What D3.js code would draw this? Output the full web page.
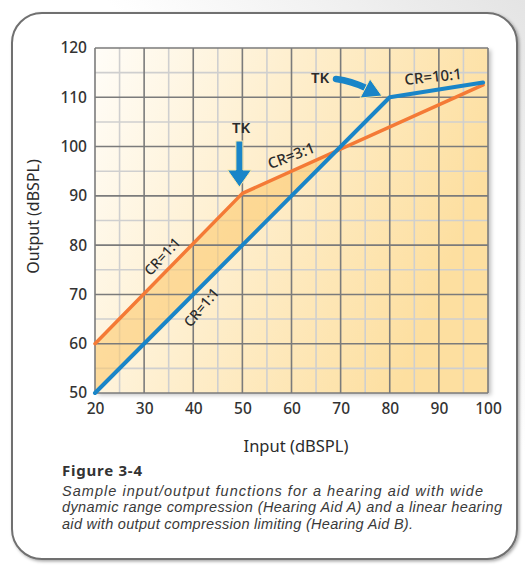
<!DOCTYPE html>
<html><head><meta charset="utf-8">
<script src="https://cdn.jsdelivr.net/npm/d3@7"></script>
<style>
html,body{margin:0;padding:0;background:#fff;}
svg{display:block;}
</style></head>
<body>
<script>
// ---- data ----
const inputTicks = [20, 30, 40, 50, 60, 70, 80, 90, 100];
const outputTicks = [50, 60, 70, 80, 90, 100, 110, 120];
const minorInput = [25, 35, 45, 55, 65, 75, 85, 95];
const minorOutput = [55, 65, 75, 85, 95, 105, 115];
// Hearing Aid A (wide dynamic range compression) - orange
const aidAInput = [20, 50, 99];
const aidAOutput = [60, 90.5, 112.5];
// Hearing Aid B (linear with output compression limiting) - blue
const aidBInput = [20, 80, 99];
const aidBOutput = [50, 110, 113];
const captionTitle = "Figure 3-4";
const captionLines = [
  "Sample input/output functions for a hearing aid with wide",
  "dynamic range compression (Hearing Aid A) and a linear hearing",
  "aid with output compression limiting (Hearing Aid B)."
];
const captionWidths = [421, 440, 351];

const W = 525, H = 565;
const margin = {left: 95, right: 37, top: 48, bottom: 172};
const pw = W - margin.left - margin.right, ph = H - margin.top - margin.bottom;

const svg = d3.select("body").append("svg").attr("width", W).attr("height", H);
const defs = svg.append("defs");

const pg = defs.append("linearGradient").attr("id","pageg").attr("x1","0").attr("y1","1").attr("x2","1").attr("y2","0");
pg.append("stop").attr("offset","0.6").attr("stop-color","#ffffff");
pg.append("stop").attr("offset","1").attr("stop-color","#e4e4e4");
svg.append("rect").attr("width",W).attr("height",H).attr("fill","url(#pageg)");

const fs = defs.append("filter").attr("id","fshadow").attr("x","-5%").attr("y","-5%").attr("width","110%").attr("height","110%");
fs.append("feDropShadow").attr("dx",1.5).attr("dy",1.5).attr("stdDeviation",1.5).attr("flood-color","#000").attr("flood-opacity",0.35);
svg.append("rect").attr("x",12).attr("y",13).attr("width",505).attr("height",546)
  .attr("rx",30).attr("ry",30).attr("fill","#fff").attr("stroke","#6f6f6f").attr("stroke-width",2)
  .attr("filter","url(#fshadow)");

const bg = defs.append("linearGradient").attr("id","plotg").attr("x1","0").attr("y1","0").attr("x2","1").attr("y2","0.35");
bg.append("stop").attr("offset","0").attr("stop-color","#fffdf8");
bg.append("stop").attr("offset","0.45").attr("stop-color","#feefcf");
bg.append("stop").attr("offset","1").attr("stop-color","#fddfa0");

const ps = defs.append("filter").attr("id","pshadow").attr("x","-5%").attr("y","-5%").attr("width","112%").attr("height","112%");
ps.append("feDropShadow").attr("dx",3).attr("dy",2).attr("stdDeviation",2).attr("flood-color","#000").attr("flood-opacity",0.25);

const x = d3.scaleLinear().domain([20,100]).range([margin.left, margin.left+pw]);
const y = d3.scaleLinear().domain([50,120]).range([margin.top+ph, margin.top]);

svg.append("rect").attr("x",x(20)).attr("y",y(120)).attr("width",x(100)-x(20)).attr("height",y(50)-y(120))
  .attr("fill","url(#plotg)").attr("filter","url(#pshadow)");

const g = svg.append("g");
g.selectAll(".mx").data(minorInput).join("line").attr("x1",d=>x(d)).attr("x2",d=>x(d))
  .attr("y1",y(120)).attr("y2",y(50)).attr("stroke","#cfcfcf").attr("stroke-width",1.6);
g.selectAll(".my").data(minorOutput).join("line").attr("y1",d=>y(d)).attr("y2",d=>y(d))
  .attr("x1",x(20)).attr("x2",x(100)).attr("stroke","#cfcfcf").attr("stroke-width",1.6);

function interp(xs, ys, v){
  for(let i=0;i<xs.length-1;i++){ if(v>=xs[i] && v<=xs[i+1]) return ys[i]+(ys[i+1]-ys[i])*(v-xs[i])/(xs[i+1]-xs[i]); }
  return ys[ys.length-1];
}
let lo=20, hi=99;
for(let k=0;k<50;k++){ const m=(lo+hi)/2; if(interp(aidAInput,aidAOutput,m)-interp(aidBInput,aidBOutput,m)>0) lo=m; else hi=m; }
const cross = lo;
const xs = [...new Set([20, ...aidAInput.filter(v=>v<cross), ...aidBInput.filter(v=>v<cross), cross])].sort((a,b)=>a-b);
const areaData = xs.map(v=>({x:v, a:interp(aidAInput,aidAOutput,v), b:interp(aidBInput,aidBOutput,v)}));
svg.append("path").datum(areaData)
  .attr("d", d3.area().x(d=>x(d.x)).y0(d=>y(d.b)).y1(d=>y(d.a)))
  .attr("fill","#fbc970").attr("opacity",0.6);

const mg = svg.append("g");
mg.selectAll("line.v").data(inputTicks).join("line").attr("class","v").attr("x1",d=>x(d)).attr("x2",d=>x(d))
  .attr("y1",y(120)).attr("y2",y(50)).attr("stroke","#7b7b7b").attr("stroke-width",1.6);
mg.selectAll("line.h").data(outputTicks).join("line").attr("class","h").attr("y1",d=>y(d)).attr("y2",d=>y(d))
  .attr("x1",x(20)).attr("x2",x(100)).attr("stroke","#7b7b7b").attr("stroke-width",1.6);

const font = "'Noto Sans', 'Open Sans', sans-serif";
const xAxis = svg.append("g").attr("transform",`translate(0,${y(50)})`)
  .call(d3.axisBottom(x).tickValues(inputTicks).tickSize(0).tickPadding(10));
xAxis.select(".domain").remove();
xAxis.selectAll("text").attr("font-family",font).attr("font-size",15.5).attr("fill","#333").attr("font-weight",500);
const yAxis = svg.append("g").attr("transform",`translate(${x(20)},0)`)
  .call(d3.axisLeft(y).tickValues(outputTicks).tickSize(0).tickPadding(8));
yAxis.select(".domain").remove();
yAxis.selectAll("text").attr("font-family",font).attr("font-size",15.5).attr("fill","#333").attr("font-weight",500);

const line = d3.line().x(d=>x(d[0])).y(d=>y(d[1])).curve(d3.curveLinear);
svg.append("path").datum(aidAInput.map((v,i)=>[v,aidAOutput[i]])).attr("d",line)
  .attr("fill","none").attr("stroke","#f47a36").attr("stroke-width",3.5).attr("stroke-linejoin","round").attr("stroke-linecap","round");
svg.append("path").datum(aidBInput.map((v,i)=>[v,aidBOutput[i]])).attr("d",line)
  .attr("fill","none").attr("stroke","#1985c8").attr("stroke-width",4).attr("stroke-linejoin","round").attr("stroke-linecap","round");

const ann = svg.append("g").attr("font-family",font).attr("fill","#2b2b2b");
function label(txt, px, py, rot, size, weight){
  ann.append("text").attr("transform",`translate(${px},${py}) rotate(${rot})`)
    .attr("text-anchor","middle").attr("dominant-baseline","central")
    .attr("font-size",size).attr("font-weight",weight||500).text(txt);
}
label("TK", 241, 127, 0, 15, 600);
label("TK", 320, 77, 0, 15, 600);
label("CR=10:1", 433, 76, -6, 15);
label("CR=3:1", 291, 155, -21, 15);
label("CR=1:1", 162, 256, -47, 14);
label("CR=1:1", 201, 307, -50, 14);

const blue = "#1985c8";
const ax = x(50)-3;
svg.append("path")
  .attr("d", `M${ax-3.5},141 L${ax+3.5},141 L${ax+3.5},170 L${ax+12},170 L${ax},187 L${ax-12},170 L${ax-3.5},170 Z`)
  .attr("fill",blue).attr("stroke","#fde9a8").attr("stroke-width",1);
svg.append("path")
  .attr("d","M336,79 Q351,81 366,88")
  .attr("fill","none").attr("stroke",blue).attr("stroke-width",6.5).attr("stroke-linecap","round");
svg.append("path")
  .attr("d","M370,79 L382,96 L360,98 Z")
  .attr("fill",blue).attr("stroke","#fde9a8").attr("stroke-width",1).attr("stroke-linejoin","round");

svg.append("text").attr("x",296).attr("y",445).attr("text-anchor","middle").attr("dominant-baseline","central")
  .attr("font-family",font).attr("font-size",16.5).attr("fill","#2b2b2b").text("Input (dBSPL)");
svg.append("text").attr("transform",`translate(33,${(y(50)+y(120))/2 - 4}) rotate(-90)`).attr("text-anchor","middle")
  .attr("dominant-baseline","central").attr("font-family",font).attr("font-size",16).attr("fill","#2b2b2b").text("Output (dBSPL)");

svg.append("text").attr("x",62).attr("y",476).attr("font-family",font).attr("font-size",15).attr("font-weight",700)
  .attr("fill","#333").attr("textLength",80).attr("lengthAdjust","spacing").text(captionTitle);
const capFont = "'Liberation Sans', Arial, sans-serif";
svg.selectAll("text.cap").data(captionLines).join("text").attr("class","cap")
  .attr("x",62).attr("y",(d,i)=>496+i*16.3)
  .attr("font-family",capFont).attr("font-size",14.5).attr("font-style","italic").attr("fill","#3a3a3a")
  .attr("textLength",(d,i)=>captionWidths[i]).attr("lengthAdjust","spacing")
  .text(d=>d);
</script>
</body></html>
